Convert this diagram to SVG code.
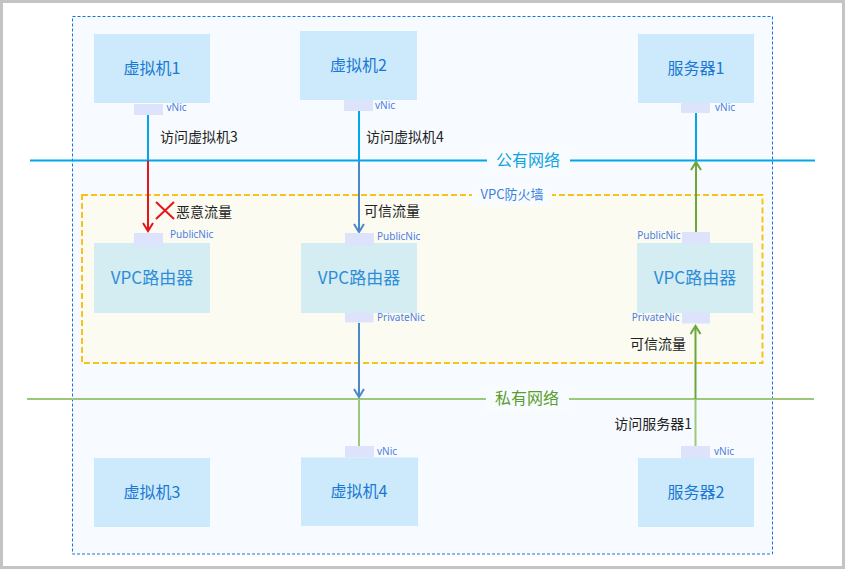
<svg xmlns="http://www.w3.org/2000/svg" width="845" height="569" viewBox="0 0 845 569">
<defs>
<style>
text{font-family:"Noto Sans CJK SC","Noto Sans",sans-serif}
.vm{fill:#cceafc}
.rt{fill:#d4edf3}
.nic{fill:#dce3fb}
.vmt{fill:#1a78d2;font-size:16px;text-anchor:middle;dominant-baseline:central}
.rtt{fill:#2e8cd6;font-size:17px;text-anchor:middle;dominant-baseline:central}
.nt{fill:#4d7de2;font-size:10px;font-family:"Noto Sans","DejaVu Sans",sans-serif}
.lbl{fill:#222;font-size:14px}
.pub{stroke:#00a8e8;stroke-width:2;fill:none}
.pri{stroke:#9dc77b;stroke-width:2;fill:none}
.red{stroke:#e8141b;stroke-width:2;fill:none}
.sb{stroke:#4a88c8;stroke-width:2;fill:none}
.dg{stroke:#6aa63a;stroke-width:2;fill:none}
</style>
<marker id="aR" viewBox="0 0 12 12" refX="10" refY="6" markerWidth="12" markerHeight="12" markerUnits="userSpaceOnUse" orient="auto"><path d="M2,1 L10,6 L2,11" fill="none" stroke="#e8141b" stroke-width="2"/></marker>
<marker id="aB" viewBox="0 0 12 12" refX="10" refY="6" markerWidth="12" markerHeight="12" markerUnits="userSpaceOnUse" orient="auto"><path d="M2,1 L10,6 L2,11" fill="none" stroke="#4a88c8" stroke-width="2"/></marker>
<marker id="aG" viewBox="0 0 12 12" refX="10" refY="6" markerWidth="12" markerHeight="12" markerUnits="userSpaceOnUse" orient="auto"><path d="M2,1 L10,6 L2,11" fill="none" stroke="#6aa63a" stroke-width="2"/></marker>
</defs>
<rect x="0" y="0" width="845" height="569" fill="#c4c4c4"/>
<rect x="3" y="3" width="839" height="563" fill="#ffffff"/>
<rect id="vpc-area" x="72.5" y="16.5" width="700" height="537.5" fill="#f7fbff" stroke="#1a6fe0" stroke-width="1" stroke-dasharray="3,2"/>
<g id="firewall">
<rect x="82" y="195" width="680.5" height="168" fill="#fbfbf2" stroke="#f7c21c" stroke-width="2" stroke-dasharray="6,3"/>
<rect x="472" y="184" width="80" height="22" fill="#f9fcff"/>
<text x="512" y="199" text-anchor="middle" font-size="13" fill="#3b7ee2">VPC防火墙</text>
</g>
<g id="networks">
<line class="pub" x1="30" y1="160.5" x2="815" y2="160.5"/>
<rect x="487" y="146" width="83" height="29" fill="#f9fcff"/>
<text x="528" y="158.5" text-anchor="middle" dominant-baseline="central" font-size="16" fill="#10a3e2">公有网络</text>
<line class="pri" x1="27" y1="399" x2="814" y2="399"/>
<rect x="486" y="386" width="83" height="27" fill="#f9fcff"/>
<text x="527" y="397" text-anchor="middle" dominant-baseline="central" font-size="16" fill="#5a9e2e">私有网络</text>
</g>
<g id="connectors">
<line class="pub" x1="148" y1="115" x2="148" y2="160.5"/>
<line class="red" x1="148" y1="160.5" x2="148" y2="231" marker-end="url(#aR)"/>
<line class="pub" x1="359" y1="110" x2="359" y2="160.5"/>
<line class="sb" x1="359" y1="160.5" x2="359" y2="232" marker-end="url(#aB)"/>
<line class="sb" x1="359" y1="323" x2="359" y2="397" marker-end="url(#aB)"/>
<line class="pri" x1="359" y1="399" x2="359" y2="446"/>
<line class="pri" x1="695.5" y1="446" x2="695.5" y2="399"/>
<line class="dg" x1="695.5" y1="399" x2="695.5" y2="326" marker-end="url(#aG)"/>
<line class="dg" x1="696" y1="232" x2="696" y2="162" marker-end="url(#aG)"/>
<line class="pub" x1="696" y1="113" x2="696" y2="160.5"/>
<text class="lbl" x="160" y="142">访问虚拟机3</text>
<text class="lbl" x="366" y="142">访问虚拟机4</text>
<line class="red" x1="156" y1="202" x2="174" y2="219"/>
<line class="red" x1="174" y1="202" x2="156" y2="219"/>
<text class="lbl" x="176" y="217">恶意流量</text>
<text class="lbl" x="364" y="216">可信流量</text>
<text class="lbl" x="630" y="349">可信流量</text>
<text class="lbl" x="692" y="429" text-anchor="end">访问服务器1</text>
</g>
<g id="vm1">
<rect class="vm" x="94" y="34" width="116" height="69"/>
<text class="vmt" x="152" y="66.5">虚拟机1</text>
<rect class="nic" x="134" y="104" width="29" height="11"/>
<text class="nt" x="166.5" y="111">vNic</text>
</g>
<g id="vm2">
<rect class="vm" x="300" y="31" width="117" height="69"/>
<text class="vmt" x="358.5" y="63.5">虚拟机2</text>
<rect class="nic" x="344" y="100" width="29" height="11"/>
<text class="nt" x="375" y="109">vNic</text>
</g>
<g id="server1">
<rect class="vm" x="638" y="34" width="116" height="69"/>
<text class="vmt" x="696" y="66.5">服务器1</text>
<rect class="nic" x="681" y="102.5" width="29" height="10.5"/>
<text class="nt" x="715" y="111">vNic</text>
</g>
<g id="router1">
<rect class="rt" x="94" y="243" width="116" height="70"/>
<text class="rtt" x="152" y="276">VPC路由器</text>
<rect class="nic" x="134" y="233" width="29" height="14"/>
<text class="nt" x="170" y="238">PublicNic</text>
</g>
<g id="router2">
<rect class="rt" x="301" y="243" width="116" height="70"/>
<text class="rtt" x="359" y="276">VPC路由器</text>
<rect class="nic" x="345" y="233" width="29" height="13"/>
<text class="nt" x="377" y="240">PublicNic</text>
<rect class="nic" x="345" y="312.5" width="28.5" height="10"/>
<text class="nt" x="377" y="320.5">PrivateNic</text>
</g>
<g id="router3">
<rect class="rt" x="637" y="243" width="116" height="70"/>
<text class="rtt" x="695" y="276">VPC路由器</text>
<rect class="nic" x="682" y="232" width="28" height="11.5"/>
<text class="nt" x="680.5" y="239" text-anchor="end">PublicNic</text>
<rect class="nic" x="682" y="312.5" width="28" height="11"/>
<text class="nt" x="679.5" y="321" text-anchor="end">PrivateNic</text>
</g>
<g id="vm3">
<rect class="vm" x="94" y="458" width="116" height="69"/>
<text class="vmt" x="152" y="490.5">虚拟机3</text>
</g>
<g id="vm4">
<rect class="vm" x="301" y="457.5" width="117" height="68.5"/>
<text class="vmt" x="359" y="490">虚拟机4</text>
<rect class="nic" x="345" y="446" width="29" height="11.5"/>
<text class="nt" x="377" y="455">vNic</text>
</g>
<g id="server2">
<rect class="vm" x="638" y="458" width="116" height="69"/>
<text class="vmt" x="696" y="490.5">服务器2</text>
<rect class="nic" x="681" y="446" width="29" height="12"/>
<text class="nt" x="714" y="455">vNic</text>
</g>
</svg>
